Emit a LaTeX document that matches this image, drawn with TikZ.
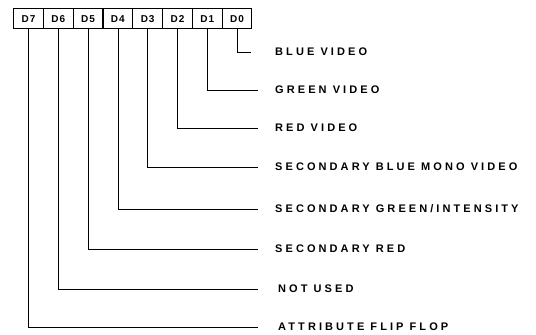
\documentclass[tikz,border=0pt]{standalone}
\usepackage{fontspec}
\setmainfont{Liberation Sans}
\newfontfamily\regfont{Liberation Sans}[LetterSpace=28]
\newfontfamily\bitfont{Liberation Sans}[LetterSpace=10]
\usetikzlibrary{matrix}

\begin{document}
\begin{tikzpicture}[x=1pt,y=-1pt,
    bits/.style={draw,line width=1.1pt,minimum width=29.8pt,minimum height=20pt,
        inner sep=0pt,font=\bitfont\bfseries\fontsize{10}{12}\selectfont},
    field/.style={anchor=west,inner sep=0pt,font=\regfont\bfseries\fontsize{11}{13}\selectfont},
    wire/.style={line width=0.7pt,shorten >=17pt}]
    \useasboundingbox (0,0) rectangle (536,335);

    \matrix (m) [matrix of nodes,
        nodes=bits,
        column sep=-1.1pt,
        inner sep=0pt,outer sep=0pt,
        anchor=north west
    ] at (13,8)
    {
        D7 & D6 & D5 & D4 & D3 & D2 & D1 & D0 \\
    };

    \node[field] (f0) at (275,52)  {BLUE VIDEO};
    \node[field] (f1) at (275,90)  {GREEN VIDEO};
    \node[field] (f2) at (275,128) {RED VIDEO};
    \node[field] (f3) at (275,167) {SECONDARY BLUE MONO VIDEO};
    \node[field] (f4) at (275,209) {SECONDARY GREEN/INTENSITY};
    \node[field] (f5) at (275,249) {SECONDARY RED};
    \node[field] (f6) at (278,289) {NOT USED};
    \node[field] (f7) at (278,327) {ATTRIBUTE FLIP FLOP};

    \draw[wire,shorten >=24pt] (m-1-8.south) |- (f0.west);
    \draw[wire] (m-1-7.south) |- (f1.west);
    \draw[wire] (m-1-6.south) |- (f2.west);
    \draw[wire] (m-1-5.south) |- (f3.west);
    \draw[wire] (m-1-4.south) |- (f4.west);
    \draw[wire] (m-1-3.south) |- (f5.west);
    \draw[wire,shorten >=20pt] (m-1-2.south) |- (f6.west);
    \draw[wire,shorten >=20pt] (m-1-1.south) |- (f7.west);

\end{tikzpicture}
\end{document}
